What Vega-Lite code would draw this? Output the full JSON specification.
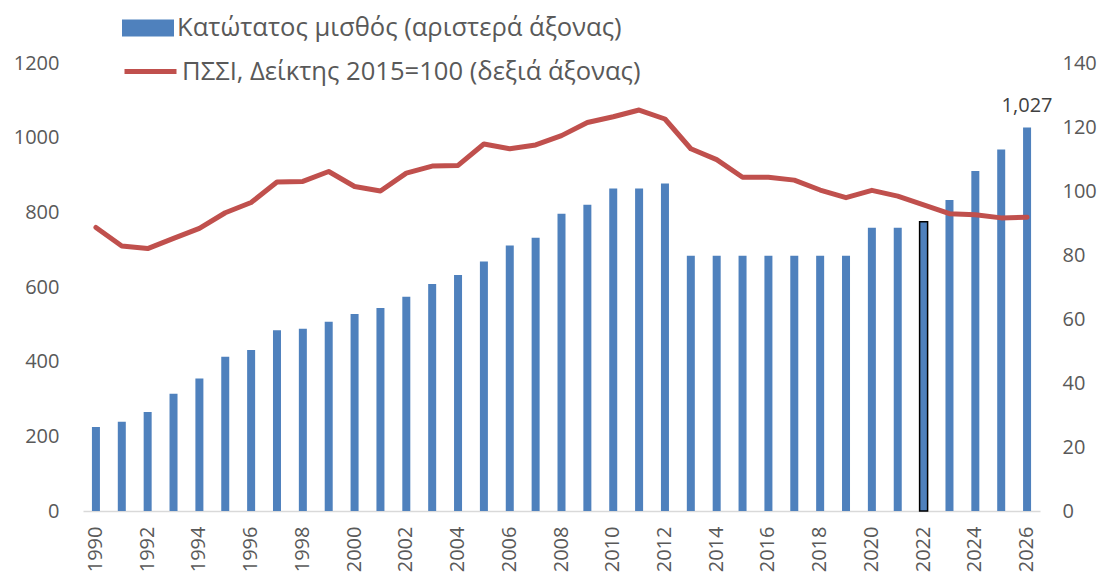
{
  "$schema": "https://vega.github.io/schema/vega-lite/v6.json",
  "width": 957,
  "height": 448,
  "autosize": {"type": "none"},
  "padding": {"left": 83, "top": 63, "right": 61, "bottom": 62},
  "background": "white",
  "config": {
    "view": {"stroke": null},
    "font": "Open Sans",
    "axis": {"labelFont": "Open Sans", "labelFontSize": 20, "labelColor": "#595959", "grid": false, "ticks": false, "title": null},
    "legend": {"labelFont": "Open Sans", "labelFontSize": 25.6, "labelColor": "#595959", "padding": 0, "labelOffset": 3, "labelLimit": 0, "titleFontSize": 0}
  },
  "data": {
    "values": [
      {"year": 1990, "wage": 225, "hicp": 88.6},
      {"year": 1991, "wage": 239, "hicp": 82.8},
      {"year": 1992, "wage": 265, "hicp": 82.0},
      {"year": 1993, "wage": 314, "hicp": 85.2},
      {"year": 1994, "wage": 355, "hicp": 88.3},
      {"year": 1995, "wage": 413, "hicp": 93.2},
      {"year": 1996, "wage": 431, "hicp": 96.4},
      {"year": 1997, "wage": 484, "hicp": 102.8},
      {"year": 1998, "wage": 488, "hicp": 103.0},
      {"year": 1999, "wage": 507, "hicp": 106.1},
      {"year": 2000, "wage": 528, "hicp": 101.4},
      {"year": 2001, "wage": 544, "hicp": 100.0},
      {"year": 2002, "wage": 574, "hicp": 105.6},
      {"year": 2003, "wage": 608, "hicp": 107.8},
      {"year": 2004, "wage": 632, "hicp": 108.0},
      {"year": 2005, "wage": 668, "hicp": 114.7},
      {"year": 2006, "wage": 711, "hicp": 113.2},
      {"year": 2007, "wage": 732, "hicp": 114.4},
      {"year": 2008, "wage": 796, "hicp": 117.3},
      {"year": 2009, "wage": 820, "hicp": 121.4},
      {"year": 2010, "wage": 864, "hicp": 123.2},
      {"year": 2011, "wage": 864, "hicp": 125.3},
      {"year": 2012, "wage": 877, "hicp": 122.5},
      {"year": 2013, "wage": 684, "hicp": 113.2},
      {"year": 2014, "wage": 684, "hicp": 109.8},
      {"year": 2015, "wage": 684, "hicp": 104.3},
      {"year": 2016, "wage": 684, "hicp": 104.3},
      {"year": 2017, "wage": 684, "hicp": 103.4},
      {"year": 2018, "wage": 684, "hicp": 100.3},
      {"year": 2019, "wage": 684, "hicp": 97.9},
      {"year": 2020, "wage": 759, "hicp": 100.2},
      {"year": 2021, "wage": 759, "hicp": 98.4},
      {"year": 2022, "wage": 775, "hicp": 95.7},
      {"year": 2023, "wage": 833, "hicp": 92.9},
      {"year": 2024, "wage": 911, "hicp": 92.6},
      {"year": 2025, "wage": 968, "hicp": 91.6},
      {"year": 2026, "wage": 1027, "hicp": 91.8}
    ]
  },
  "encoding": {
    "x": {
      "field": "year",
      "type": "ordinal",
      "scale": {"paddingInner": 0.69, "paddingOuter": 0.345},
      "axis": {
        "values": [1990, 1992, 1994, 1996, 1998, 2000, 2002, 2004, 2006, 2008, 2010, 2012, 2014, 2016, 2018, 2020, 2022, 2024, 2026],
        "labelAngle": -90,
        "labelPadding": 15,
        "domainColor": "#D9D9D9",
        "domainWidth": 1.5
      }
    }
  },
  "layer": [
    {
      "encoding": {
        "y": {
          "field": "wage",
          "type": "quantitative",
          "scale": {"domain": [0, 1200], "nice": false},
          "axis": {"orient": "left", "values": [0, 200, 400, 600, 800, 1000, 1200], "format": "d", "domain": false, "labelPadding": 24}
        }
      },
      "layer": [
        {
          "mark": {"type": "bar", "size": 8},
          "encoding": {
            "color": {
              "datum": "Κατώτατος μισθός (αριστερά άξονας)",
              "type": "nominal",
              "scale": {"range": ["#4F81BD"]},
              "legend": {"orient": "none", "legendX": 39, "legendY": -61, "title": null, "symbolType": "M-1,-0.327H1V0.327H-1Z", "symbolSize": 2704, "symbolStrokeWidth": 0}
            }
          }
        },
        {
          "transform": [{"filter": "datum.year == 2022"}],
          "mark": {"type": "bar", "size": 8, "fill": "#4F81BD", "stroke": "#000000", "strokeWidth": 1.5}
        },
        {
          "transform": [{"filter": "datum.year == 2026"}],
          "mark": {"type": "text", "baseline": "bottom", "dy": -12, "fontSize": 20, "color": "#404040", "font": "Open Sans"},
          "encoding": {"text": {"field": "wage", "type": "quantitative", "format": ","}}
        }
      ]
    },
    {
      "mark": {"type": "line", "strokeWidth": 5, "strokeJoin": "round", "strokeCap": "round"},
      "encoding": {
        "y": {
          "field": "hicp",
          "type": "quantitative",
          "scale": {"domain": [0, 140], "nice": false},
          "axis": {"orient": "right", "values": [0, 20, 40, 60, 80, 100, 120, 140], "domain": false, "labelPadding": 22}
        },
        "stroke": {
          "datum": "ΠΣΣΙ, Δείκτης 2015=100 (δεξιά άξονας)",
          "type": "nominal",
          "scale": {"range": ["#C0504D"]},
          "legend": {"orient": "none", "legendX": 39, "legendY": -20, "title": null, "symbolType": "stroke", "symbolSize": 2704, "symbolStrokeWidth": 5}
        }
      }
    }
  ],
  "resolve": {"scale": {"y": "independent"}}
}
